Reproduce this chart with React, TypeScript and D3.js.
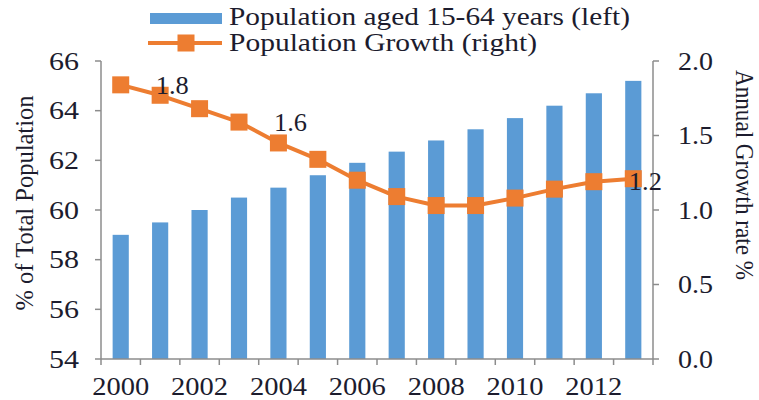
import React from "react";
import * as d3 from "d3";

const years = [2000, 2001, 2002, 2003, 2004, 2005, 2006, 2007, 2008, 2009, 2010, 2011, 2012, 2013];
const workingAge = [59.0, 59.5, 60.0, 60.5, 60.9, 61.4, 61.9, 62.35, 62.8, 63.25, 63.7, 64.2, 64.7, 65.2];
const growth = [1.84, 1.77, 1.68, 1.59, 1.45, 1.34, 1.2, 1.09, 1.03, 1.03, 1.08, 1.14, 1.19, 1.21];
const leftTicks = [54, 56, 58, 60, 62, 64, 66];
const rightTicks = [0, 0.5, 1.0, 1.5, 2.0];
const xLabelYears = [2000, 2002, 2004, 2006, 2008, 2010, 2012];
const labeledYears = [2000, 2003, 2012];

const BLUE = "#5B9BD5";
const ORANGE = "#ED7D31";
const AXIS = "#8c8c8c";
const TEXT = "#1c1c2e";
const FONT = '"Liberation Serif", "Times New Roman", Times, monospace';

export default function App() {
  const W = 759, H = 400;
  const left = 101, right = 653, top = 61, bottom = 359;
  const x = d3.scaleBand<number>().domain(years).range([left, right]).paddingInner(0.59).paddingOuter(0.295);
  const xb = d3.scaleBand<number>().domain(years).range([left, right]);
  const yL = d3.scaleLinear().domain([54, 66]).range([bottom, top]);
  const yR = d3.scaleLinear().domain([0, 2]).range([bottom, top]);
  const cx = (yr: number) => (xb(yr) as number) + xb.bandwidth() / 2;
  const line = d3.line<number>().x((_, i) => cx(years[i])).y((d) => yR(d));
  const ms = 17;

  return (
    <svg width={W} height={H} style={{ position: "absolute", left: 0, top: 0, fontFamily: FONT }}>
      <rect width={W} height={H} fill="#fff" />
      {/* Legend */}
      <rect x={150} y={13} width={72} height={11} fill={BLUE} />
      <text x={229} y={25} fontSize={25} fill={TEXT} textLength={401} lengthAdjust="spacingAndGlyphs">Population aged 15-64 years (left)</text>
      <line x1={148} x2={222} y1={43} y2={43} stroke={ORANGE} strokeWidth={4} />
      <rect x={186 - ms / 2} y={43 - ms / 2} width={ms} height={ms} fill={ORANGE} />
      <text x={229} y={51} fontSize={25} fill={TEXT} textLength={308} lengthAdjust="spacingAndGlyphs">Population Growth (right)</text>

      {/* Bars */}
      {years.map((yr, i) => (
        <rect key={yr} x={x(yr)} y={yL(workingAge[i])} width={x.bandwidth()} height={bottom - yL(workingAge[i])} fill={BLUE} />
      ))}

      {/* Axes */}
      <line x1={left} x2={left} y1={top} y2={bottom} stroke={AXIS} strokeWidth={1.5} />
      <line x1={right} x2={right} y1={top} y2={bottom} stroke={AXIS} strokeWidth={1.5} />
      <line x1={left} x2={right} y1={bottom} y2={bottom} stroke={AXIS} strokeWidth={1.5} />
      {leftTicks.map((t) => (
        <g key={t}>
          <line x1={left - 6} x2={left} y1={yL(t)} y2={yL(t)} stroke={AXIS} strokeWidth={1.5} />
          <text x={79} y={yL(t)} dy="0.35em" textAnchor="end" fontSize={25} fill={TEXT} textLength={30} lengthAdjust="spacingAndGlyphs">{t}</text>
        </g>
      ))}
      {rightTicks.map((t) => (
        <g key={t}>
          <line x1={right} x2={right + 6} y1={yR(t)} y2={yR(t)} stroke={AXIS} strokeWidth={1.5} />
          <text x={678} y={yR(t)} dy="0.35em" textAnchor="start" fontSize={25} fill={TEXT} textLength={35} lengthAdjust="spacingAndGlyphs">{d3.format(".1f")(t)}</text>
        </g>
      ))}
      {years.concat([2014]).map((yr, i) => {
        const xx = left + i * xb.bandwidth();
        return <line key={yr} x1={xx} x2={xx} y1={bottom} y2={bottom + 6} stroke={AXIS} strokeWidth={1.5} />;
      })}
      {xLabelYears.map((yr) => (
        <text key={yr} x={cx(yr)} y={395} textAnchor="middle" fontSize={25} fill={TEXT} textLength={57} lengthAdjust="spacingAndGlyphs">{yr}</text>
      ))}

      {/* Axis titles */}
      <text transform="translate(33,203) rotate(-90)" textAnchor="middle" fontSize={25} fill={TEXT} textLength={215} lengthAdjust="spacingAndGlyphs">% of Total Population</text>
      <text transform="translate(736,175) rotate(90)" textAnchor="middle" fontSize={25} fill={TEXT} textLength={210} lengthAdjust="spacingAndGlyphs">Annual Growth rate %</text>

      {/* Line */}
      <path d={line(growth) || ""} fill="none" stroke={ORANGE} strokeWidth={4} strokeLinejoin="round" />
      {years.map((yr, i) => (
        <rect key={yr} x={cx(yr) - ms / 2} y={yR(growth[i]) - ms / 2} width={ms} height={ms} fill={ORANGE} />
      ))}
      {years.map((yr, i) =>
        labeledYears.includes(yr) ? (
          <text key={yr} x={cx(yr) + 35} y={yR(growth[i])} dy="0.35em" fontSize={25} fill={TEXT} textLength={33} lengthAdjust="spacingAndGlyphs">{d3.format(".1f")(growth[i])}</text>
        ) : null
      )}
    </svg>
  );
}
